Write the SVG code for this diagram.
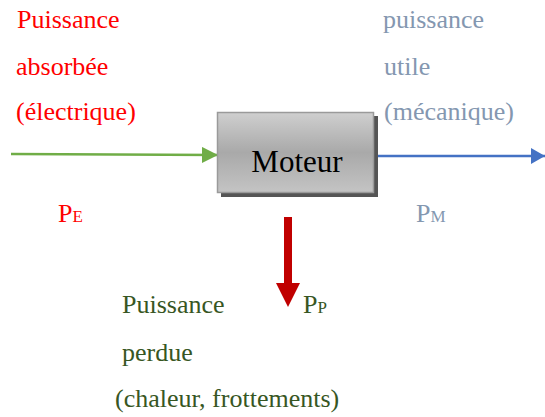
<svg xmlns="http://www.w3.org/2000/svg" width="545" height="417" viewBox="0 0 545 417">
<defs>
<linearGradient id="g" x1="0" y1="0" x2="0" y2="1">
<stop offset="0" stop-color="#cfcfcf"/>
<stop offset="0.5" stop-color="#a9a9a9"/>
<stop offset="1" stop-color="#c4c4c4"/>
</linearGradient>
<marker id="ag" markerUnits="userSpaceOnUse" markerWidth="16" markerHeight="16" refX="16" refY="8" orient="auto"><path d="M0,0 L16,8 L0,16 Z" fill="#70ad47"/></marker>
<marker id="ab" markerUnits="userSpaceOnUse" markerWidth="14" markerHeight="16" refX="14" refY="8" orient="auto"><path d="M0,0 L14,8 L0,16 Z" fill="#4472c4"/></marker>
</defs>
<g id="connectors">
<line x1="11" y1="154" x2="218" y2="155" stroke="#70ad47" stroke-width="2.5" marker-end="url(#ag)"/>
<line x1="375" y1="156" x2="545" y2="156" stroke="#4472c4" stroke-width="2.5" marker-end="url(#ab)"/>
<path d="M284,217 H292 V283 H300 L288,307 L276,283 H284 Z" fill="#c00000"/>
</g>
<g id="moteur">
<rect x="221" y="116" width="157" height="81" fill="#555"/>
<rect x="217.5" y="112.5" width="156" height="80" fill="url(#g)" stroke="#9a9a9a" stroke-width="1.5"/>
<text x="297" y="172" text-anchor="middle" fill="#000" font-family="Times New Roman" font-size="31">Moteur</text>
</g>
<g id="entree" fill="#ff0000">
<text x="17" y="28" font-family="Times New Roman" font-size="26">Puissance</text>
<text x="16" y="75" font-family="Times New Roman" font-size="26">absorbée</text>
<text x="16" y="120" font-family="Times New Roman" font-size="26">(électrique)</text>
<text x="58" y="222" font-family="Times New Roman" font-size="26">P<tspan font-size="17">E</tspan></text>
</g>
<g id="sortie" fill="#8497b0">
<text x="383" y="28" font-family="Times New Roman" font-size="26">puissance</text>
<text x="384" y="75" font-family="Times New Roman" font-size="26">utile</text>
<text x="384" y="120" font-family="Times New Roman" font-size="26">(mécanique)</text>
<text x="416" y="222" font-family="Times New Roman" font-size="26">P<tspan font-size="17">M</tspan></text>
</g>
<g id="pertes" fill="#375623">
<text x="122" y="313" font-family="Times New Roman" font-size="26">Puissance</text>
<text x="122" y="361" font-family="Times New Roman" font-size="26">perdue</text>
<text x="115" y="407" font-family="Times New Roman" font-size="26">(chaleur, frottements)</text>
<text x="303" y="313" font-family="Times New Roman" font-size="26">P<tspan font-size="17">P</tspan></text>
</g>
</svg>
